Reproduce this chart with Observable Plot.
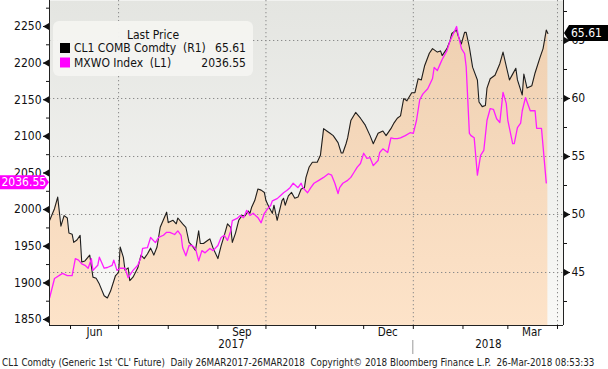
<!DOCTYPE html>
<html><head><meta charset="utf-8">
<script src="https://cdn.jsdelivr.net/npm/d3@7"></script>
<script src="https://cdn.jsdelivr.net/npm/@observablehq/plot@0.6"></script>
<style>
html,body{margin:0;padding:0;background:#fff;}
svg text{font-family: Tahoma, "DejaVu Sans Condensed", "Liberation Sans", sans-serif;}
</style></head><body><div id="chart"></div>
<script>
// ---- Data ----
const cl1Dates = ["2017-05-19","2017-05-22","2017-05-24","2017-05-26","2017-05-28","2017-05-30","2017-05-31","2017-06-02","2017-06-03","2017-06-05","2017-06-07","2017-06-08","2017-06-10","2017-06-13","2017-06-15","2017-06-17","2017-06-19","2017-06-22","2017-06-24","2017-06-26","2017-06-29","2017-07-01","2017-07-02","2017-07-04","2017-07-05","2017-07-07","2017-07-08","2017-07-10","2017-07-13","2017-07-15","2017-07-17","2017-07-19","2017-07-21","2017-07-23","2017-07-25","2017-07-27","2017-07-31","2017-08-01","2017-08-04","2017-08-06","2017-08-07","2017-08-10","2017-08-12","2017-08-14","2017-08-16","2017-08-18","2017-08-20","2017-08-21","2017-08-23","2017-08-26","2017-08-27","2017-08-29","2017-08-31","2017-09-01","2017-09-03","2017-09-05","2017-09-07","2017-09-09","2017-09-10","2017-09-12","2017-09-14","2017-09-16","2017-09-18","2017-09-20","2017-09-21","2017-09-22","2017-09-24","2017-09-26","2017-09-28","2017-09-30","2017-10-01","2017-10-03","2017-10-05","2017-10-06","2017-10-08","2017-10-11","2017-10-12","2017-10-13","2017-10-15","2017-10-17","2017-10-19","2017-10-21","2017-10-23","2017-10-25","2017-10-26","2017-10-28","2017-10-30","2017-11-02","2017-11-04","2017-11-06","2017-11-08","2017-11-10","2017-11-12","2017-11-15","2017-11-17","2017-11-18","2017-11-20","2017-11-21","2017-11-23","2017-11-26","2017-11-29","2017-12-02","2017-12-05","2017-12-07","2017-12-10","2017-12-13","2017-12-15","2017-12-18","2017-12-20","2017-12-22","2017-12-24","2017-12-26","2017-12-28","2017-12-31","2018-01-02","2018-01-04","2018-01-06","2018-01-08","2018-01-11","2018-01-13","2018-01-16","2018-01-18","2018-01-19","2018-01-22","2018-01-24","2018-01-25","2018-01-28","2018-01-29","2018-01-31","2018-02-02","2018-02-03","2018-02-05","2018-02-07","2018-02-10","2018-02-11","2018-02-13","2018-02-15","2018-02-16","2018-02-18","2018-02-21","2018-02-24","2018-02-26","2018-02-28","2018-03-02","2018-03-04","2018-03-06","2018-03-07","2018-03-10","2018-03-11","2018-03-13","2018-03-16","2018-03-18","2018-03-21","2018-03-23","2018-03-25","2018-03-26"];
const cl1Values = [49.5,50.5,51.5,49.0,49.9,49.7,48.4,48.3,47.6,47.8,48.2,45.9,46.0,46.5,44.6,44.5,44.0,43.0,42.8,43.4,44.7,45.0,47.2,46.3,45.2,45.4,44.3,44.6,45.4,46.5,46.2,46.6,47.1,46.5,47.2,48.9,50.2,49.3,49.5,49.2,49.7,49.2,48.9,47.6,47.3,46.9,48.6,47.5,47.5,47.8,47.9,47.1,46.5,46.2,47.3,48.2,49.2,48.9,47.6,48.4,49.5,49.9,49.9,50.3,50.1,50.6,51.2,52.2,52.1,51.9,51.2,50.6,50.1,50.8,49.5,51.2,51.4,50.8,51.6,51.9,51.4,51.5,52.2,52.3,53.2,54.1,54.5,54.5,55.1,57.4,57.2,57.0,56.8,56.2,55.3,55.3,56.1,56.6,58.1,58.8,58.3,57.7,56.8,56.1,57.0,57.2,56.8,57.4,57.9,58.3,58.5,60.0,59.8,60.5,60.5,61.7,61.6,62.8,63.9,64.3,64.0,64.1,63.7,64.3,65.0,65.6,65.9,65.4,64.7,65.7,65.7,64.4,62.7,61.6,59.7,59.3,59.4,60.9,61.7,62.0,63.0,64.0,62.8,61.6,62.1,62.6,61.6,60.3,62.1,60.9,61.1,62.2,63.5,64.3,65.9,65.61];

const mxwoDates = ["2017-05-19","2017-05-22","2017-05-27","2017-05-30","2017-06-02","2017-06-04","2017-06-06","2017-06-08","2017-06-10","2017-06-12","2017-06-14","2017-06-15","2017-06-18","2017-06-19","2017-06-22","2017-06-24","2017-06-27","2017-06-28","2017-06-30","2017-07-02","2017-07-05","2017-07-07","2017-07-10","2017-07-13","2017-07-15","2017-07-16","2017-07-19","2017-07-21","2017-07-24","2017-07-26","2017-07-29","2017-07-31","2017-08-02","2017-08-05","2017-08-07","2017-08-09","2017-08-10","2017-08-12","2017-08-14","2017-08-16","2017-08-18","2017-08-20","2017-08-22","2017-08-24","2017-08-27","2017-08-29","2017-09-01","2017-09-03","2017-09-05","2017-09-07","2017-09-09","2017-09-10","2017-09-13","2017-09-15","2017-09-17","2017-09-19","2017-09-21","2017-09-23","2017-09-26","2017-09-28","2017-09-30","2017-10-02","2017-10-04","2017-10-05","2017-10-08","2017-10-10","2017-10-12","2017-10-14","2017-10-16","2017-10-18","2017-10-21","2017-10-23","2017-10-24","2017-10-27","2017-10-29","2017-10-31","2017-11-03","2017-11-06","2017-11-09","2017-11-11","2017-11-13","2017-11-15","2017-11-16","2017-11-18","2017-11-21","2017-11-23","2017-11-25","2017-11-27","2017-11-29","2017-12-01","2017-12-03","2017-12-05","2017-12-07","2017-12-10","2017-12-11","2017-12-13","2017-12-16","2017-12-18","2017-12-20","2017-12-22","2017-12-24","2017-12-27","2017-12-30","2018-01-01","2018-01-03","2018-01-05","2018-01-07","2018-01-10","2018-01-13","2018-01-14","2018-01-16","2018-01-18","2018-01-19","2018-01-22","2018-01-24","2018-01-26","2018-01-28","2018-01-29","2018-01-31","2018-02-02","2018-02-03","2018-02-04","2018-02-05","2018-02-06","2018-02-08","2018-02-10","2018-02-12","2018-02-14","2018-02-16","2018-02-18","2018-02-20","2018-02-22","2018-02-24","2018-02-26","2018-02-28","2018-03-01","2018-03-04","2018-03-05","2018-03-07","2018-03-09","2018-03-10","2018-03-12","2018-03-15","2018-03-18","2018-03-19","2018-03-22","2018-03-25"];
const mxwoValues = [1880,1906,1913,1910,1910,1933,1931,1926,1924,1920,1933,1917,1924,1935,1920,1921,1924,1931,1917,1920,1920,1907,1917,1924,1935,1947,1948,1962,1955,1962,1965,1969,1969,1966,1971,1965,1948,1937,1951,1951,1947,1930,1944,1941,1947,1944,1951,1962,1965,1958,1971,1985,1988,1992,1989,1999,1992,1995,1989,1982,1995,2001,2006,2012,2015,2019,2023,2026,2030,2036,2030,2036,2030,2023,2030,2036,2040,2044,2049,2047,2036,2022,2030,2036,2040,2044,2051,2058,2063,2077,2070,2071,2060,2067,2078,2083,2078,2098,2097,2097,2098,2101,2105,2104,2122,2150,2158,2165,2179,2194,2190,2200,2205,2217,2231,2240,2250,2239,2220,2213,2195,2150,2104,2101,2098,2047,2074,2081,2122,2138,2137,2124,2119,2160,2145,2122,2090,2090,2112,2118,2135,2153,2135,2135,2111,2111,2036.55];

const leftTicks = [1850,1900,1950,2000,2050,2100,2150,2200,2250];
const leftMinorTicks = [1875,1925,1975,2025,2075,2125,2175,2225,2275];
const rightTicks = [45,50,55,60,65];
const rightMinorTicks = [42.5,47.5,52.5,57.5,62.5,67.5];
const monthTickDates = ["2017-06-01","2017-07-01","2017-08-01","2017-09-01","2017-10-01","2017-11-01","2017-12-01","2018-01-01","2018-02-01","2018-03-01","2018-04-01"];
const gridDates = ["2017-07-01","2017-10-01","2018-01-01","2018-04-01"];
const monthLabelNames = ["Jun","Sep","Dec","Mar"];
const monthLabelDates = ["2017-06-16","2017-09-16","2017-12-16","2018-03-16"];
const yearLabels = ["2017","2018"];
const yearBreak = "2018-01-01";
const seriesNames = ["CL1 COMB Comdty  (R1)","MXWO Index  (L1)"];
const lastCL1 = 65.61, lastMXWO = 2036.55;
const caption = "CL1 Comdty (Generic 1st 'CL' Future)  Daily 26MAR2017-26MAR2018  Copyright\u00A9 2018 Bloomberg Finance L.P.  26-Mar-2018 08:53:33";

// ---- Scales ----
const xDomain = [new Date("2017-05-18T21:00Z"), new Date("2018-04-04T18:00Z")];
const rightDomain = [40.431, 68.448];
const leftDomain = [1841.81, 2285.49];
const toRight = d3.scaleLinear(leftDomain, rightDomain);

const cl1 = cl1Dates.map((d, i) => ({date: new Date(d), value: cl1Values[i]}));
const mx = mxwoDates.map((d, i) => ({date: new Date(d), value: toRight(mxwoValues[i])}));
const ymin = rightDomain[0];
const yb = new Date(yearBreak);
const yearMid = [new Date((+xDomain[0] + +yb) / 2), new Date((+yb + +xDomain[1]) / 2)];

function defs() {
  const ns = "http://www.w3.org/2000/svg";
  const g = document.createElementNS(ns, "defs");
  g.innerHTML = `
    <linearGradient id="bgGrad" gradientUnits="userSpaceOnUse" x1="0" y1="0" x2="0" y2="325">
      <stop offset="0" stop-color="#e4e5e1"/><stop offset="1" stop-color="#f9f9f7"/>
    </linearGradient>
    <linearGradient id="peachGrad" gradientUnits="userSpaceOnUse" x1="0" y1="0" x2="0" y2="325">
      <stop offset="0" stop-color="#eecfb0"/><stop offset="1" stop-color="#fde3c9"/>
    </linearGradient>`;
  return g;
}

const tri = (anchor, dx, rot) => Plot.dot(anchor === "left" ? leftTicks.map(toRight) : rightTicks,
  {y: d => d, frameAnchor: anchor, dx, symbol: "triangle", rotate: rot, r: 2.6, fill: "#111", stroke: "none"});

const plot = Plot.plot({
  width: 608, height: 369,
  marginLeft: 49, marginRight: 45, marginTop: 0, marginBottom: 44,
  x: {type: "utc", domain: xDomain},
  y: {domain: rightDomain},
  style: {background: "#fff", color: "#111", fontSize: "12px"},
  marks: [
    defs,
    Plot.frame({fill: "url(#bgGrad)", stroke: "none"}),
    Plot.areaY(cl1, {x: "date", y1: ymin, y2: "value", fill: "url(#peachGrad)"}),
    Plot.ruleY(rightTicks, {stroke: "#8a8a8a", strokeDasharray: "1.3,2.7", strokeWidth: 1}),
    Plot.ruleX(gridDates.map(d => new Date(d)), {stroke: "#8a8a8a", strokeDasharray: "1.3,2.7", strokeWidth: 1}),
    Plot.lineY(cl1, {x: "date", y: "value", stroke: "#1e1e1e", strokeWidth: 1.1}),
    Plot.lineY(mx, {x: "date", y: "value", stroke: "#ff1cff", strokeWidth: 1.3}),
    Plot.ruleX(xDomain, {stroke: "#222", strokeWidth: 1}),
    Plot.ruleY([ymin], {stroke: "#222", strokeWidth: 1}),
    Plot.axisY({anchor: "left", ticks: leftTicks.map(toRight), tickSize: 6, tickPadding: 2,
      tickFormat: v => String(Math.round(toRight.invert(v))), label: null, fontSize: 12}),
    Plot.axisY({anchor: "left", ticks: leftMinorTicks.map(toRight).filter(v => v < rightDomain[1]), tickSize: 3, tickFormat: () => "", label: null}),
    tri("left", -2.5, -90),
    Plot.axisY({anchor: "right", ticks: rightTicks, tickSize: 6, tickPadding: 2, label: null, fontSize: 12}),
    Plot.axisY({anchor: "right", ticks: rightMinorTicks, tickSize: 3, tickFormat: () => "", label: null}),
    tri("right", 2.5, 90),
    Plot.axisX({ticks: monthTickDates.map(d => new Date(d)), tickSize: 4, tickFormat: () => "", label: null}),
    Plot.text(monthLabelNames, {x: (d, i) => new Date(monthLabelDates[i]), text: d => d, frameAnchor: "bottom", dy: 10, fontSize: 11.5, fill: "#111"}),
    Plot.text(yearLabels, {x: (d, i) => yearMid[i], text: d => d, frameAnchor: "bottom", dy: 22, fontSize: 11.5, fill: "#111"})
  ]
});
document.getElementById("chart").appendChild(plot);

// ---- Overlays: legend, value tags, caption ----
const svg = d3.select(plot);
const xs = plot.scale("x"), ys = plot.scale("y");
const xb = xs.apply(yb);
svg.append("line").attr("x1", xb).attr("x2", xb).attr("y1", 340).attr("y2", 354)
  .attr("stroke", "#999").attr("stroke-width", 1);

const lg = svg.append("g").style("font-size", "12px").style("white-space", "pre").attr("text-anchor", "start");
lg.append("rect").attr("x", 53).attr("y", 21).attr("width", 200).attr("height", 55).attr("rx", 6)
  .attr("fill", "#f4f4f1").attr("fill-opacity", 0.97);
lg.append("text").attr("x", 153).attr("y", 35).attr("text-anchor", "middle").attr("dominant-baseline", "central")
  .attr("fill", "#111").text("Last Price");
const colors = ["#000", "#ff00ff"];
const lastVals = [lastCL1.toFixed(2), lastMXWO.toFixed(2)];
seriesNames.forEach((name, i) => {
  const cy = 48 + i * 14.5;
  lg.append("rect").attr("x", 60).attr("y", cy - 5).attr("width", 10).attr("height", 10).attr("fill", colors[i]);
  lg.append("text").attr("x", 74).attr("y", cy).attr("text-anchor", "start").attr("dominant-baseline", "central").attr("fill", "#111").text(name);
  lg.append("text").attr("x", 246).attr("y", cy).attr("text-anchor", "end").attr("dominant-baseline", "central").attr("fill", "#111").text(lastVals[i]);
});

// right tag
const yr = ys.apply(lastCL1);
svg.append("path").attr("d", `M564,${yr} L569,${yr - 8} L608,${yr - 8} L608,${yr + 8} L569,${yr + 8} Z`).attr("fill", "#000");
svg.append("text").attr("x", 571).attr("y", yr).attr("text-anchor", "start").attr("dominant-baseline", "central").attr("fill", "#fff")
  .style("font-size", "12px").text(lastCL1.toFixed(2));
// left tag
const yl = ys.apply(toRight(lastMXWO));
svg.append("path").attr("d", `M0,${yl - 7} L44,${yl - 7} L49,${yl} L44,${yl + 7} L0,${yl + 7} Z`).attr("fill", "#ff00ff");
svg.append("text").attr("x", 1.5).attr("y", yl).attr("text-anchor", "start").attr("dominant-baseline", "central").attr("fill", "#fff")
  .style("font-size", "12px").text(lastMXWO.toFixed(2));

svg.append("text").attr("x", 2).attr("y", 362).attr("text-anchor", "start").attr("dominant-baseline", "central").attr("fill", "#222")
  .style("font-size", "9.75px").style("white-space", "pre").text(caption);
</script></body></html>
